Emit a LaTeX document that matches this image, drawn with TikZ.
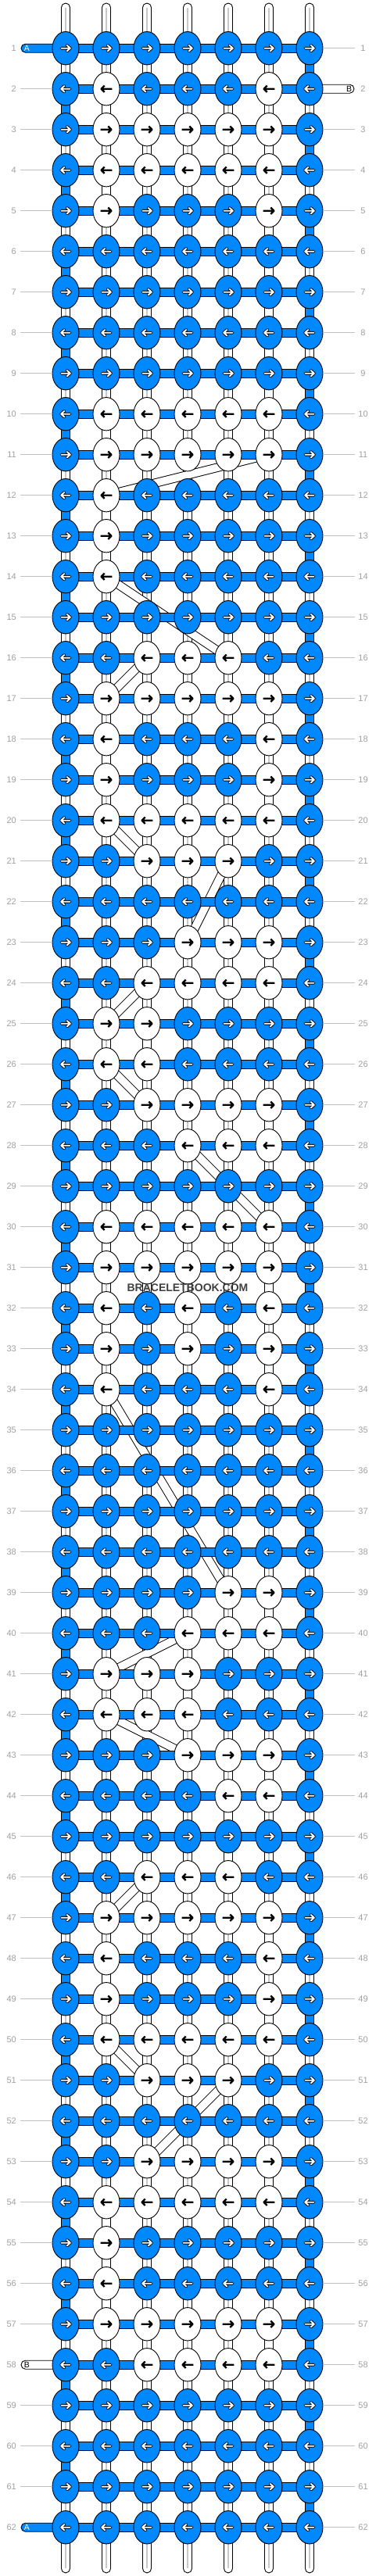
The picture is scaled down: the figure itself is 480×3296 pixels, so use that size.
\documentclass[tikz,border=0pt]{standalone}
\usepackage{fontspec}
\setmainfont{Liberation Sans}
\usetikzlibrary{shapes.geometric}
\definecolor{kblue}{RGB}{0,136,255}
\definecolor{numgrey}{RGB}{160,160,160}
\definecolor{linegrey}{RGB}{192,192,192}
\definecolor{warpgrey}{RGB}{200,200,200}
\definecolor{markgrey}{RGB}{64,64,64}
\pgfdeclarelayer{bgfill}
\pgfdeclarelayer{vlayer}
\pgfdeclarelayer{blayer}
\pgfdeclarelayer{hlayer}
\pgfsetlayers{bgfill,vlayer,blayer,hlayer,main}
\def\wstr{w}
\tikzset{
 knot/.style={ellipse, minimum width=34pt, minimum height=42.4pt, inner sep=0pt, draw=black, line width=0.9pt},
 knotb/.style={knot, fill=kblue},
 knotw/.style={knot, fill=white},
 warpbox/.style={draw=black, fill=white, line width=0.9pt},
 bluebox/.style={draw=black, fill=kblue, line width=0.9pt},
 warpline/.style={draw=warpgrey, line width=1.4pt},
 arrout/.style={line width=3.8pt, draw=black, line cap=round, line join=round},
 arrin/.style={line width=1.9pt, draw=white, line cap=round, line join=round},
 arrblk/.style={line width=2.4pt, draw=black, line cap=butt, line join=round},
 num/.style={font=\fontsize{11}{11}\selectfont, text=numgrey, inner sep=0pt},
 numline/.style={draw=linegrey, line width=0.9pt},
 tablbl/.style={font=\fontsize{10.5}{10.5}\selectfont, inner sep=0pt},
 bandout/.style={line width=11.5pt, draw=black},
 bandin/.style={line width=9.6pt, draw=white},
}
\begin{document}
\begin{tikzpicture}[x=1pt,y=-1pt]
\begin{pgfonlayer}{bgfill}
\fill[white] (0,0) rectangle (480,3296);
\end{pgfonlayer}
\useasboundingbox (0,0) rectangle (480,3296);

% knots and arrows
\foreach \r/\ca/\cb/\cc/\cd/\ce/\cf/\cg in {
1/b/b/b/b/b/b/b, 2/b/w/b/b/b/w/b, 3/b/w/w/w/w/w/b, 4/b/w/w/w/w/w/b,
5/b/w/b/b/b/w/b, 6/b/b/b/b/b/b/b, 7/b/b/b/b/b/b/b, 8/b/b/b/b/b/b/b,
9/b/b/b/b/b/b/b, 10/b/w/w/w/w/w/b, 11/b/w/w/w/w/w/b, 12/b/w/b/b/b/b/b,
13/b/w/b/b/b/b/b, 14/b/w/b/b/b/b/b, 15/b/b/b/b/b/b/b, 16/b/b/w/w/w/b/b,
17/b/w/w/w/w/w/b, 18/b/w/b/b/b/w/b, 19/b/w/b/b/b/w/b, 20/b/w/w/w/w/w/b,
21/b/b/w/w/w/b/b, 22/b/b/b/b/b/b/b, 23/b/b/b/w/w/w/b, 24/b/b/w/w/w/w/b,
25/b/w/w/b/b/b/b, 26/b/w/w/b/b/b/b, 27/b/b/w/w/w/w/b, 28/b/b/b/w/w/w/b,
29/b/b/b/b/b/b/b, 30/b/w/w/w/w/w/b, 31/b/w/w/w/w/w/b, 32/b/w/b/w/b/w/b,
33/b/w/b/w/b/w/b, 34/b/w/b/b/b/w/b, 35/b/b/b/b/b/b/b, 36/b/b/b/b/b/b/b,
37/b/b/b/b/b/b/b, 38/b/b/b/b/b/b/b, 39/b/b/b/b/w/w/b, 40/b/b/b/w/w/w/b,
41/b/w/w/w/b/b/b, 42/b/w/w/w/b/b/b, 43/b/b/b/w/w/w/b, 44/b/b/b/b/w/w/b,
45/b/b/b/b/b/b/b, 46/b/b/w/w/w/b/b, 47/b/w/w/w/w/w/b, 48/b/w/b/b/b/w/b,
49/b/w/b/b/b/w/b, 50/b/w/w/w/w/w/b, 51/b/b/w/w/w/b/b, 52/b/b/b/b/b/b/b,
53/b/b/w/w/w/w/b, 54/b/w/w/w/w/w/b, 55/b/w/b/b/b/b/b, 56/b/w/b/b/b/b/b,
57/b/w/w/w/w/w/b, 58/b/b/w/w/w/w/b, 59/b/b/b/b/b/b/b, 60/b/b/b/b/b/b/b,
61/b/b/b/b/b/b/b, 62/b/b/b/b/b/b/b}{
  \pgfmathsetmacro\yy{61.7+(\r-1)*52}
  \pgfmathsetmacro\dd{ifthenelse(mod(\r,2)==1,1,-1)}
  \foreach \c/\k in {1/\ca,2/\cb,3/\cc,4/\cd,5/\ce,6/\cf,7/\cg}{
    \pgfmathsetmacro\xx{84+(\c-1)*52}
    \edef\kk{\k}
    \ifx\kk\wstr
      \node[knotw] (n-\r-\c) at (\xx,\yy) {};
      \draw[arrblk, shift={(\xx,\yy)}, xscale=\dd] (-7.3,0) -- (6,0) (2.3,-4.2) -- (6.4,0) -- (2.3,4.2);
    \else
      \node[knotb] (n-\r-\c) at (\xx,\yy) {};
      \draw[arrout, shift={(\xx,\yy)}, xscale=\dd] (-5.5,0) -- (5.8,0) (1.8,-3.7) -- (5.8,0) -- (1.8,3.7);
      \draw[arrin, shift={(\xx,\yy)}, xscale=\dd] (-5.5,0) -- (5.8,0) (1.8,-3.7) -- (5.8,0) -- (1.8,3.7);
    \fi
  }
}

% row numbers
\foreach \r in {1,...,62}{
  \pgfmathsetmacro\yy{61.7+(\r-1)*52}
  \node[num, anchor=east] (L-\r) at (21,\yy) {\r};
  \node[num] (R-\r) at (464.5,\yy) {\r};
  \coordinate (LL-\r) at (26,\yy);
  \coordinate (RR-\r) at (454,\yy);
}
\foreach \r in {2,...,57,59,60,61}{
  \draw[numline] (LL-\r) -- (n-\r-1.west);
}
\foreach \r in {1,3,4,...,62}{
  \draw[numline] (n-\r-7.east) -- (RR-\r);
}

% vertical connectors
\begin{pgfonlayer}{vlayer}
\foreach \r in {1,...,61}{
  \pgfmathtruncatemacro\rr{\r+1}
  \foreach \c in {1,...,7}{
    \draw[warpbox] ([xshift=-5.5pt]n-\r-\c.center) rectangle ([xshift=5.5pt]n-\rr-\c.center);
    \draw[warpline] (n-\r-\c.center) -- (n-\rr-\c.center);
  }
}
\foreach \r/\c in {2/2,3/6,4/2,5/6,6/6,7/6,8/6,9/6,10/2,12/2,13/2,17/6,18/2,19/6,
  23/6,25/3,27/6,30/2,31/6,32/2,33/6,39/6,41/4,43/6,44/5,45/5,47/6,48/2,49/6,
  53/6,54/2,55/2,56/2,57/6}{
  \pgfmathtruncatemacro\rr{\r+1}
  \draw[warpbox] ([xshift=-5.5pt]n-\r-\c.center) rectangle ([xshift=5.5pt]n-\rr-\c.center);
}
\foreach \r in {1,3,...,61}{
  \pgfmathtruncatemacro\rr{\r+1}
  \draw[bluebox] ([xshift=-5.5pt]n-\r-7.center) rectangle ([xshift=5.5pt]n-\rr-7.center);
}
\foreach \r in {2,4,...,60}{
  \pgfmathtruncatemacro\rr{\r+1}
  \draw[bluebox] ([xshift=-5.5pt]n-\r-1.center) rectangle ([xshift=5.5pt]n-\rr-1.center);
}
\foreach \c in {1,...,7}{
  \pgfmathsetmacro\xx{84+(\c-1)*52}
  \coordinate (top-\c) at (\xx,4);
  \coordinate (bot-\c) at (\xx,3292);
  \draw[warpbox, rounded corners=5.5pt] ([xshift=-5.5pt]top-\c) rectangle ([xshift=5.5pt]n-1-\c.center);
  \draw[warpline] ([yshift=-6pt]top-\c) -- (n-1-\c.center);
  \draw[warpbox, rounded corners=5.5pt] ([xshift=-5.5pt]n-62-\c.center) rectangle ([xshift=5.5pt]bot-\c);
  \draw[warpline] (n-62-\c.center) -- ([yshift=6pt]bot-\c);
}
\end{pgfonlayer}

% B thread moving between rows
\begin{pgfonlayer}{blayer}
\foreach \ra/\ca/\rb/\cb in {11/6/12/2, 14/2/16/5, 16/3/17/2, 20/2/21/3, 21/5/23/4,
  24/3/25/2, 26/2/27/3, 28/4/30/6, 34/2/39/5, 40/4/41/2, 42/2/43/4, 46/3/47/2,
  50/2/51/3, 51/5/53/3}{
  \draw[bandout] (n-\ra-\ca.center) -- (n-\rb-\cb.center);
  \draw[bandin] (n-\ra-\ca.center) -- (n-\rb-\cb.center);
}
\end{pgfonlayer}

% horizontal bars and end tabs
\begin{pgfonlayer}{hlayer}
\foreach \r in {1,...,62}{
  \draw[bluebox] ([yshift=5.5pt]n-\r-1.center) rectangle ([yshift=-5.5pt]n-\r-7.center);
}
\coordinate (tabA1) at (27,61.7);
\coordinate (tabB2) at (453,113.7);
\coordinate (tabB58) at (27,3025.7);
\coordinate (tabA62) at (27,3233.7);
\draw[bluebox, rounded corners=5.5pt] ([yshift=5.5pt]tabA1) rectangle ([yshift=-5.5pt]n-1-1.center);
\draw[warpbox, rounded corners=5.5pt] ([yshift=5.5pt]n-2-7.center) rectangle ([yshift=-5.5pt]tabB2);
\draw[warpbox, rounded corners=5.5pt] ([yshift=5.5pt]tabB58) rectangle ([yshift=-5.5pt]n-58-1.center);
\draw[bluebox, rounded corners=5.5pt] ([yshift=5.5pt]tabA62) rectangle ([yshift=-5.5pt]n-62-1.center);
\end{pgfonlayer}

\node[tablbl, text=white] (lblA1) at (34.5,61.7) {A};
\node[tablbl, text=black] (lblB2) at (446.5,113.7) {B};
\node[tablbl, text=black] (lblB58) at (34.5,3025.7) {B};
\node[tablbl, text=white] (lblA62) at (34.5,3233.7) {A};

\node[font=\bfseries\fontsize{14}{14}\selectfont, text=markgrey, inner sep=0pt] (wm) at (240,1647.7) {BRACELETBOOK.COM};
\end{tikzpicture}
\end{document}
